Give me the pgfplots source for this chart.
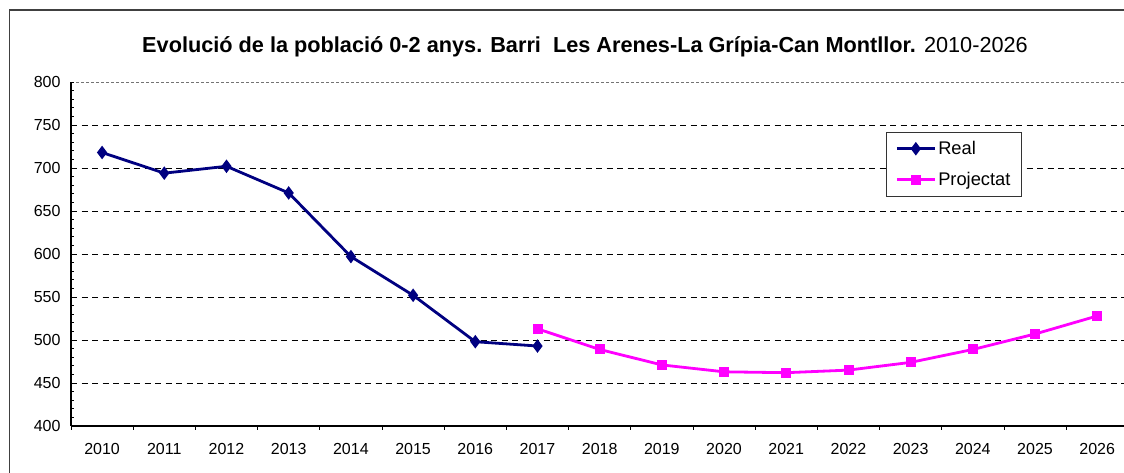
\documentclass[border=0pt]{standalone}
\usepackage{fontspec}
\setmainfont{Liberation Sans}
\usepackage{pgfplots}
\pgfplotsset{compat=1.18}
\definecolor{realcol}{HTML}{000080}
\definecolor{projcol}{HTML}{FF00FF}

\begin{document}
\begin{tikzpicture}[x=1pt,y=1pt]
\useasboundingbox (0,0) rectangle (1124,472);
\draw[line width=1.4pt, black!75] (9.5,-20) rectangle (1160,462);
\node[anchor=base, inner sep=0pt, font=\fontsize{21.7}{26}\selectfont] at (585,419)
  {\textbf{Evolució de la població 0-2 anys. Barri\ \ Les Arenes-La Grípia-Can Montllor.} 2010-2026};
\begin{axis}[
  at={(71pt,46pt)}, anchor=south west,
  scale only axis, width=1057.4pt, height=344pt,
  xmin=2009.5, xmax=2026.5, ymin=400, ymax=800,
  axis lines*=left,
  axis line style={black, line width=1.2pt},
  tick align=inside,
  major tick length=3.5pt, minor tick length=3.5pt,
  tick style={black, line width=0.8pt},
  xtick={2010,...,2026},
  major x tick style={draw=none},
  minor xtick={2009.5,2010.5,...,2026.5},
  minor x tick style={yshift=-3.5pt},
  ytick={400,450,...,750},
  extra y ticks={800},
  extra y tick style={grid style={black!55, dash pattern=on 3pt off 2pt, line width=0.8pt}},
  minor ytick={410,420,...,790},
  ymajorgrids,
  grid style={black, dash pattern=on 6pt off 4.5pt, line width=0.8pt},
  /pgf/number format/1000 sep={},
  /pgf/number format/assume math mode=true,
  xticklabel style={font=\fontsize{16}{19}\selectfont, yshift=-14pt},
  yticklabel style={font=\fontsize{16}{19}\selectfont, xshift=-7pt},
  legend style={at={(0.7708,0.8547)}, anchor=north west, draw=black!80,
    line width=0.8pt, font=\fontsize{18.3}{21}\selectfont,
    inner xsep=9pt, inner ysep=7pt, row sep=12pt},
  legend cell align=left,
  legend image code/.code={\draw[mark repeat=2,mark phase=2,#1]
    plot coordinates {(0pt,0pt) (19pt,0pt) (38pt,0pt)};},
]
\addplot[realcol, line width=2.8pt, mark=diamond*, mark size=4.5pt, mark options={solid}] coordinates {
  (2010,718) (2011,694) (2012,702) (2013,671) (2014,597)
  (2015,552) (2016,498) (2017,493)};
\addlegendentry{Real}
\addplot[projcol, line width=2.8pt, mark=square*, mark size=3.6pt, mark options={solid}] coordinates {
  (2017,513) (2018,489) (2019,471) (2020,463) (2021,462)
  (2022,465) (2023,474) (2024,489) (2025,507) (2026,528)};
\addlegendentry{Projectat}
\end{axis}
\end{tikzpicture}
\end{document}
